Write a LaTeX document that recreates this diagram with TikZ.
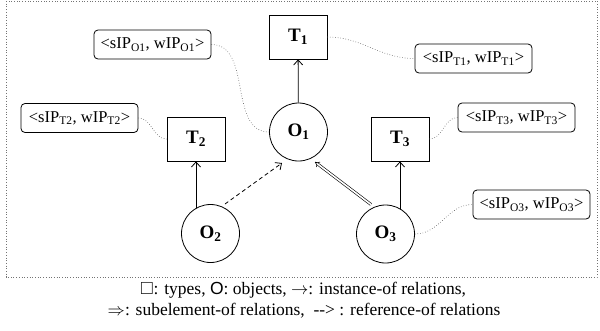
\documentclass[tikz,border=0pt]{standalone}
\usepackage{fontspec}
\usepackage{amssymb}
\setmainfont{Liberation Serif}
\newfontfamily\capsans{Liberation Sans}
\usetikzlibrary{arrows.meta}
\begin{document}
\begin{tikzpicture}[x=1pt,y=-1pt,
  typebox/.style={draw,line width=0.8pt,minimum width=58pt,minimum height=44pt,inner sep=0pt,font=\fontsize{19}{22}\selectfont\bfseries},
  objcirc/.style={draw,circle,line width=0.8pt,minimum size=58pt,inner sep=0pt,font=\fontsize{19}{22}\selectfont\bfseries},
  ipbox/.style={draw,rounded corners=4pt,line width=0.8pt,minimum width=117pt,minimum height=29pt,inner sep=0pt,font=\fontsize{16.5}{19}\selectfont},
  note/.style={draw=black!65,dotted,line width=0.6pt},
  inst/.style={line width=0.8pt,-{Straight Barb[length=5pt,width=9pt]}},
  refarr/.style={line width=0.8pt,dashed,dash pattern=on 4pt off 3pt,-{Straight Barb[length=5pt,width=9pt]}},
  subel/.style={double,double distance=1.6pt,line width=0.6pt,-{Implies[scale=1.4]}},
  captext/.style={font=\fontsize{17.5}{21}\selectfont}
]
\useasboundingbox (0,0) rectangle (600,330);
\draw[black!55,dotted,line width=0.7pt] (6,1) rectangle (597,277);

\node[typebox] (T1) at (298,37) {T\textsubscript{1}};
\node[typebox] (T2) at (196,139) {T\textsubscript{2}};
\node[typebox] (T3) at (400,139) {T\textsubscript{3}};
\node[objcirc] (O1) at (298.5,132) {O\textsubscript{1}};
\node[objcirc] (O2) at (210.5,233.5) {O\textsubscript{2}};
\node[objcirc] (O3) at (385.5,234) {O\textsubscript{3}};

\node[ipbox] (LO1) at (152.5,44.5) {<sIP\textsubscript{O1}, wIP\textsubscript{O1}>};
\node[ipbox] (LT2) at (79.5,118) {<sIP\textsubscript{T2}, wIP\textsubscript{T2}>};
\node[ipbox] (LT1) at (473.5,58.5) {<sIP\textsubscript{T1}, wIP\textsubscript{T1}>};
\node[ipbox] (LT3) at (516.5,117.5) {<sIP\textsubscript{T3}, wIP\textsubscript{T3}>};
\node[ipbox] (LO3) at (531.5,204.5) {<sIP\textsubscript{O3}, wIP\textsubscript{O3}>};

\draw[inst] (O1) -- (T1);
\coordinate (o2s) at ([shift={(-14.5,-25.5)}]O2.center);
\draw[inst] (o2s) -- (o2s |- T2.south);
\coordinate (o3s) at ([shift={(14.5,-25.5)}]O3.center);
\draw[inst] (o3s) -- (o3s |- T3.south);
\coordinate (o2r) at ([shift={(14.5,-29.5)}]O2.center);
\coordinate (o1l) at ([shift={(-16.5,31)}]O1.center);
\draw[refarr] (o2r) -- (o1l);
\coordinate (o3l) at ([shift={(-14.5,-29.5)}]O3.center);
\coordinate (o1r) at ([shift={(16.5,30)}]O1.center);
\draw[subel] (o3l) -- (o1r);

\draw[note] (LO1.east) to[out=0,in=180] (O1.west);
\draw[note] (LT2.east) to[out=0,in=180] (T2.west);
\draw[note] (T1.east) to[out=0,in=180] (LT1.west);
\draw[note] (T3.east) to[out=0,in=180] (LT3.west);
\draw[note] (O3.east) to[out=0,in=180] (LO3.west);

\node[captext] (cap1) at (303,290) {$\square$: types, {\capsans O}: objects, $\rightarrow$: instance-of relations,};
\node[captext] (cap2) at (304,311) {$\Rightarrow$: subelement-of relations,~~-{}-> : reference-of relations};
\end{tikzpicture}
\end{document}
